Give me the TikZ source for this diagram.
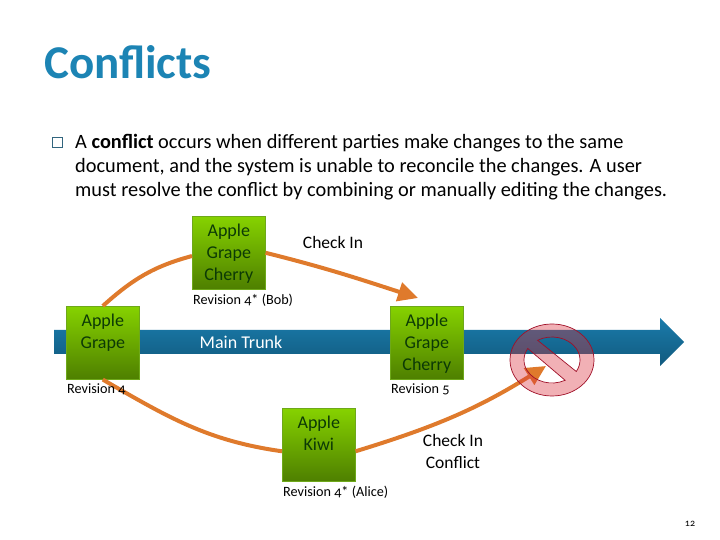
\documentclass[tikz,border=0pt]{standalone}
\usepackage{fontspec}
\setmainfont[Numbers=OldStyle]{Carlito}
\usetikzlibrary{positioning, arrows.meta}
\definecolor{titleblue}{HTML}{1C84B4}
\definecolor{trunktop}{HTML}{1A7BAB}
\definecolor{trunkbot}{HTML}{115A7E}
\definecolor{boxtop}{HTML}{86D200}
\definecolor{boxbot}{HTML}{4E7F00}
\definecolor{boxedge}{HTML}{6EA81A}
\definecolor{boxtext}{HTML}{0C3A06}
\definecolor{mergeline}{HTML}{DF7A2C}
\definecolor{stopfill}{HTML}{D9303C}
\definecolor{stopedge}{HTML}{A01028}
\tikzset{
  revbox/.style={draw=boxedge,line width=0.6pt,top color=boxtop,bottom color=boxbot,
    minimum size=73pt,inner sep=0pt,text=boxtext,anchor=north west,align=center,
    font=\fontsize{18}{22}\selectfont,text depth=2pt},
  revlabel/.style={font=\fontsize{14.2}{16}\selectfont,inner sep=0pt,anchor=north west},
  sidetext/.style={font=\fontsize{17.5}{22}\selectfont,align=center,inner sep=0pt},
  merge/.style={mergeline,line width=4pt,-{Triangle[width=19pt,length=20pt]}},
  branch/.style={mergeline,line width=4pt}
}
\begin{document}
\begin{tikzpicture}[x=1pt,y=1pt]
\useasboundingbox (0,0) rectangle (720,540);
%%First place the trunk
\shade[top color=trunktop,bottom color=trunkbot]
  (54,210) -- (660,210) -- (660,222) -- (684,198) -- (660,174) -- (660,186) -- (54,186) -- cycle;
%%Then the texts
\node (title) [anchor=west,inner sep=0pt,text=titleblue,font=\fontsize{47}{50}\selectfont\bfseries] at (44,478) {Conflicts};
\node (bullet) [draw=trunkbot!70!gray,line width=0.6pt,minimum size=10.5pt,inner sep=0pt] at (57.5,397.5) {};
\node (body) [anchor=north west,inner sep=0pt,align=left,font=\fontsize{20.35}{24}\selectfont] at (75,405.5)
  {A \textbf{conflict} occurs when different parties make changes to the same\\
   document, and the system is unable to reconcile the changes. A user\\
   must resolve the conflict by combining or manually editing the changes.};
%%Now the boxes
\node (grape) [revbox] at (66,234) {Apple\\Grape\\\strut};
\node (cherry) [revbox] at (192,324) {Apple\\Grape\\Cherry};
\node (merged) [revbox] at (390,234) {Apple\\Grape\\Cherry};
\node (kiwi) [revbox] at (282,132) {Apple\\Kiwi\\\strut};
\node (trunklabel) [sidetext,text=white,font=\fontsize{18}{22}\selectfont] at (241,198) {Main Trunk};
\node (checkin) [sidetext] at (333,298) {Check In};
\node (checkconflict) [sidetext] at (453,89) {Check In\\Conflict};
\node (pageno) [inner sep=0pt,font=\fontsize{10}{12}\selectfont] at (690,16) {12};
%%Free ends of the arrows
\coordinate (bobtip) at (418,242);
\coordinate (alicetip) at (546,174);
%%Draw the orange arrows
\draw[branch] (grape.north) to[out=42,in=195] (cherry.185);
\draw[merge] (cherry.east) to[out=-14,in=162] (bobtip);
\draw[branch] (grape.south) to[out=-30,in=172] (kiwi.190);
\draw[merge] (kiwi.-10) to[out=17,in=212] (alicetip);
%%Labels under the boxes
\node (revbase) [revlabel,below right=4pt and 1pt of grape.south west] {Revision 4};
\node (revbob) [revlabel,below right=4pt and 1pt of cherry.south west] {Revision 4* (Bob)};
\node (revmerged) [revlabel,below right=4pt and 1pt of merged.south west] {Revision 5};
\node (revalice) [revlabel,below right=4pt and 1pt of kiwi.south west] {Revision 4* (Alice)};
%%The stop sign goes on top
\fill[stopfill,fill opacity=0.38,even odd rule]
  (552,180) ellipse [x radius=42pt,y radius=36pt]
  (552,180) ++(121:28pt and 23pt) arc [start angle=121,end angle=-30,x radius=28pt,y radius=23pt] -- cycle
  (552,180) ++(-62:28pt and 23pt) arc [start angle=-62,end angle=-210,x radius=28pt,y radius=23pt] -- cycle;
\draw[stopedge,line width=0.7pt]
  (552,180) ellipse [x radius=42pt,y radius=36pt]
  (552,180) ++(121:28pt and 23pt) arc [start angle=121,end angle=-30,x radius=28pt,y radius=23pt] -- cycle
  (552,180) ++(-62:28pt and 23pt) arc [start angle=-62,end angle=-210,x radius=28pt,y radius=23pt] -- cycle;
\end{tikzpicture}
\end{document}
